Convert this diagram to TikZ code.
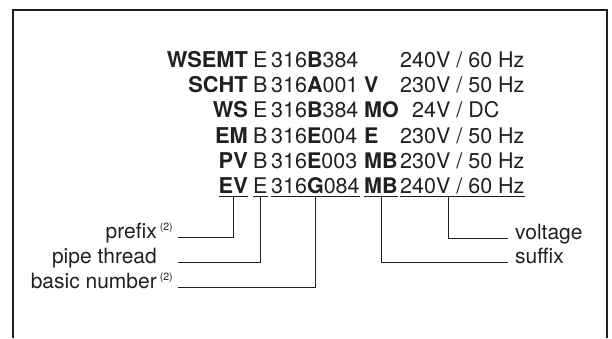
\documentclass[tikz,border=0pt]{standalone}
\usepackage{fontspec}
\setmainfont{TeX Gyre Heros}
\usepackage{xcolor}
\definecolor{ink}{HTML}{231F20}
\usepackage{tikz}

\newcommand{\refnote}{\rlap{\hspace{3pt}\raisebox{7.5pt}{\fontsize{10.5}{10.5}\selectfont(2)}}}

\begin{document}
\begin{tikzpicture}[x=1pt,y=-1pt,every node/.style={inner sep=0pt,text=ink,font=\fontsize{21}{25}\selectfont},
  pre/.style={anchor=base east,font=\fontsize{21.8}{25}\selectfont\bfseries},
  part/.style={anchor=base west,font=\fontsize{21.5}{25}\selectfont},
  suf/.style={anchor=base west,font=\fontsize{21.5}{25}\selectfont\bfseries},
  lead/.style={draw=ink,line width=0.8pt}]
\useasboundingbox (0,0) rectangle (612,338);
\draw[ink,line width=2pt] (12.5,338) -- (12.5,10) -- (607,10) -- (607,338);
% code rows
\node[pre] (pa) at (248,67) {WSEMT};
\node[part] (ta) at (253,67) {E};
\node[part] (na) at (271,67) {316\textbf{B}384};
\node[part] (va) at (400,67) {240V / 60 Hz};
\node[pre] (pb) at (248,92) {SCHT};
\node[part] (tb) at (253,92) {B};
\node[part] (nb) at (271,92) {316\textbf{A}001};
\node[suf] (sb) at (364,92) {V};
\node[part] (vb) at (400,92) {230V / 50 Hz};
\node[pre] (pc) at (248,117) {WS};
\node[part] (tc) at (253,117) {E};
\node[part] (nc) at (271,117) {316\textbf{B}384};
\node[suf] (sc) at (364,117) {MO};
\node[part] (vc) at (412,117) {24V / DC};
\node[pre] (pd) at (248,143) {EM};
\node[part] (td) at (253,143) {B};
\node[part] (nd) at (271,143) {316\textbf{E}004};
\node[suf] (sd) at (364,143) {E};
\node[part] (vd) at (400,143) {230V / 50 Hz};
\node[pre] (pe) at (248,168) {PV};
\node[part] (te) at (253,168) {B};
\node[part] (ne) at (271,168) {316\textbf{E}003};
\node[suf] (se) at (364,168) {MB};
\node[part] (ve) at (400,168) {230V / 50 Hz};
\node[pre] (evpre) at (248,193) {EV};
\node[part] (evthr) at (253,193) {E};
\node[part] (evnum) at (271,193) {316\textbf{G}084};
\node[suf] (evsuf) at (364,193) {MB};
\node[part] (evvolt) at (400,193) {240V / 60 Hz};
% underlines
\foreach \seg in {evpre,evthr,evnum,evsuf,evvolt}
  \draw[lead] ([yshift=-3pt]\seg.base west) -- ([yshift=-3pt]\seg.base east);
% labels
\node[anchor=base east] (lblprefix) at (157,238) {prefix\refnote};
\node[anchor=base east] (lblthread) at (157,263) {pipe thread};
\node[anchor=base east] (lblnumber) at (157,288) {basic number\refnote};
\node[anchor=base west] (lblvoltage) at (515,239) {voltage};
\node[anchor=base west] (lblsuffix) at (515,263) {suffix};
% leaders
\draw[lead] ([shift={(21pt,1pt)}]lblprefix.base east) -| ([yshift=-3pt]evpre.base);
\draw[lead] ([shift={(21pt,1pt)}]lblthread.base east) -| ([yshift=-3pt]evthr.base);
\draw[lead] ([shift={(21pt,1pt)}]lblnumber.base east) -| ([yshift=-3pt]evnum.base);
\draw[lead] ([shift={(-7pt,1pt)}]lblvoltage.base west) -| ([shift={(48pt,-3pt)}]evvolt.base west);
\draw[lead] ([shift={(-7pt,1pt)}]lblsuffix.base west) -| ([yshift=-3pt]evsuf.base);
\end{tikzpicture}
\end{document}
